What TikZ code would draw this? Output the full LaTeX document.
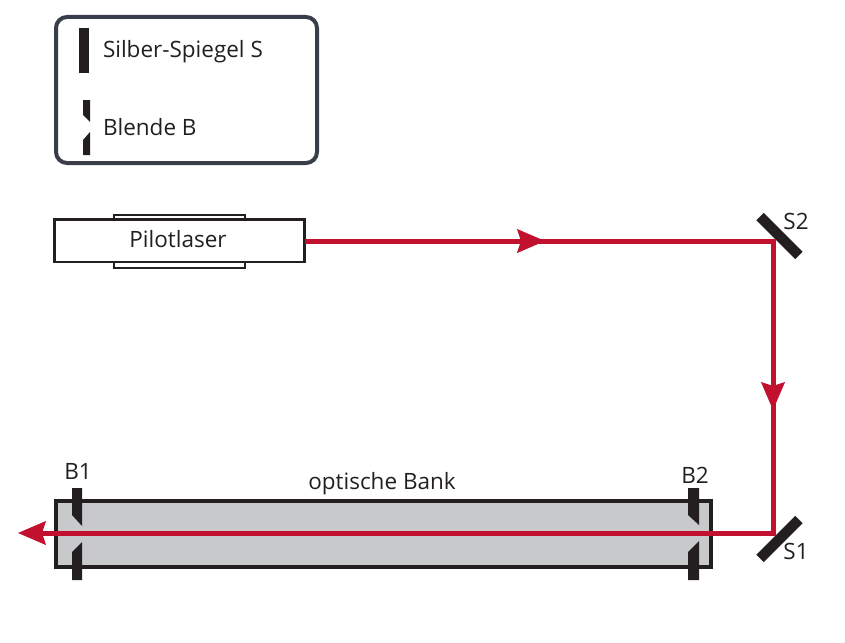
\documentclass[tikz,border=0pt]{standalone}
\usepackage{fontspec}
\setmainfont{Open Sans}
\usetikzlibrary{arrows.meta}
\definecolor{ink}{HTML}{231F20}
\definecolor{legendline}{HTML}{3A3D4A}
\definecolor{beamred}{HTML}{C1112F}
\definecolor{bankgrey}{HTML}{C8C9CB}
\tikzset{
  lbl/.style={font=\fontsize{22.5}{26}\selectfont,text=ink,inner sep=0pt,outer sep=0pt},
  solidpart/.style={fill=ink,draw=none},
  beam/.style={draw=beamred,line width=5pt,line join=miter},
  beamhead/.style={draw=beamred,line width=1pt,-{Stealth[length=28pt,width=24pt,inset=4pt,fill=beamred]}},
  mirror/.style={fill=ink,draw=none,minimum width=55pt,minimum height=10.5pt,inner sep=0pt,outer sep=0pt}
}
\begin{document}
\begin{tikzpicture}[x=1pt,y=-1pt]
\useasboundingbox (0,0) rectangle (845,642);
% legend
\draw[legendline,line width=4pt,rounded corners=11pt] (56,17) rectangle (317,163);
\node[solidpart,minimum width=10pt,minimum height=45pt,inner sep=0pt] (legendmirror) at (84,50.5) {};
\fill[ink] (83,100) -- (90,100) -- (90,122) -- (83,115) -- cycle;
\fill[ink] (90,132) -- (83,140) -- (83,155) -- (90,155) -- cycle;
\node[lbl,anchor=base west] (legendS) at (103,58) {Silber-Spiegel S};
\node[lbl,anchor=base west] (legendB) at (103,135) {Blende B};
% laser
\draw[ink,line width=2pt] (114,214.5) rectangle (245,267.5);
\node[draw=ink,line width=2.5pt,fill=white,minimum width=250pt,minimum height=42.5pt,inner sep=0pt,outer sep=0pt] (laser) at (179.5,240.75) {};
\node[lbl,anchor=base] (laserlabel) at (178,247) {Pilotlaser};
% bank
\draw[ink,fill=bankgrey,line width=4pt] (56,501) rectangle (711,567);
\node[lbl,anchor=base] (banklabel) at (382,489) {optische Bank};
% apertures
\fill[ink] (72,488) -- (82,488) -- (82,526) -- (72,515) -- cycle;
\fill[ink] (82,542) -- (72,552) -- (72,580) -- (82,580) -- cycle;
\fill[ink] (688,488) -- (699,488) -- (699,525) -- (688,515) -- cycle;
\fill[ink] (699,541) -- (688,552) -- (688,580) -- (699,580) -- cycle;
\node[lbl,anchor=base] (B1) at (78,479) {B1};
\node[lbl,anchor=base] (B2) at (695,483) {B2};
% mirrors
\node[mirror,rotate=-45] (S2m) at (779.5,236) {};
\node[mirror,rotate=45] (S1m) at (779.5,539) {};
\node[lbl,anchor=base] (S2) at (796,229) {S2};
\node[lbl,anchor=base] (S1) at (796,559) {S1};
% beam
\coordinate (hit2) at (773,241);
\coordinate (hit1) at (773,533);
\coordinate (tip1) at (545,241);
\coordinate (back1) at (510,241);
\coordinate (tip2) at (773,410);
\coordinate (back2) at (773,380);
\coordinate (tip3) at (18,533);
\coordinate (back3) at (42,533);
\coordinate (back3far) at (60,533);
\draw[beam] (laser.east |- hit2) -- (hit2) -- (hit1) -- (back3);
\draw[beamhead] (back1) -- (tip1);
\draw[beamhead] (back2) -- (tip2);
\draw[beamhead] (back3far) -- (tip3);
\end{tikzpicture}
\end{document}
